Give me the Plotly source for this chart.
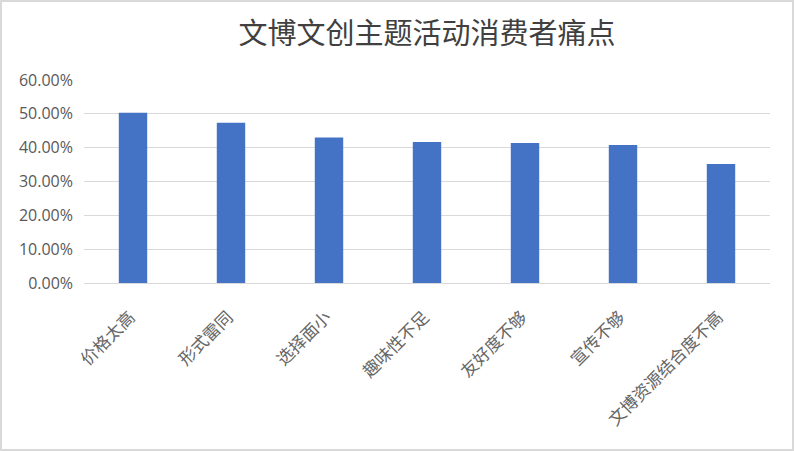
import plotly.graph_objects as go

categories = ["价格太高", "形式雷同", "选择面小", "趣味性不足", "友好度不够", "宣传不够", "文博资源结合度不高"]
values = [0.503, 0.474, 0.430, 0.417, 0.414, 0.408, 0.352]
y_ticks = [0, 0.1, 0.2, 0.3, 0.4, 0.5, 0.6]

W, H = 794, 451
ml, mr, mt, mb = 84, 24, 80, 168
pw, ph = W - ml - mr, H - mt - mb

fig = go.Figure()
fig.add_bar(x=categories, y=values, marker_color="#4472C4", marker_line_width=0)

# light grey frame around the whole chart
fig.add_shape(type="rect", xref="paper", yref="paper",
              x0=(1 - ml) / pw, x1=(W - 1 - ml) / pw,
              y0=-(mb - 1) / ph, y1=1 + (mt - 1) / ph,
              line=dict(color="#d9d9d9", width=2), layer="below")

fig.update_layout(
    width=W, height=H,
    margin=dict(l=ml, r=mr, t=mt, b=mb),
    paper_bgcolor="white", plot_bgcolor="white",
    bargap=0.71, showlegend=False,
    title=dict(text="文博文创主题活动消费者痛点", x=0.5, xref="paper", y=0.925, yanchor="middle",
               font=dict(family="Noto Sans CJK SC", size=29, color="#404040")),
    xaxis=dict(tickangle=-45, showgrid=False, showline=False, ticks="",
               ticklabelstandoff=20, ticklabelshift=-3,
               tickfont=dict(family="Noto Sans CJK SC", size=17, color="#666666")),
    yaxis=dict(range=[0, 0.6], tickvals=y_ticks, tickformat=".2%",
               gridcolor="#d9d9d9", gridwidth=1.3, zeroline=True, zerolinecolor="#d9d9d9",
               zerolinewidth=1.3, showline=False, ticks="", ticklabelstandoff=10,
               tickfont=dict(family="Open Sans", size=16, color="#595959")),
)

fig.write_html("out.html", config={"displayModeBar": False},
               post_script="document.body.style.margin='0';")
